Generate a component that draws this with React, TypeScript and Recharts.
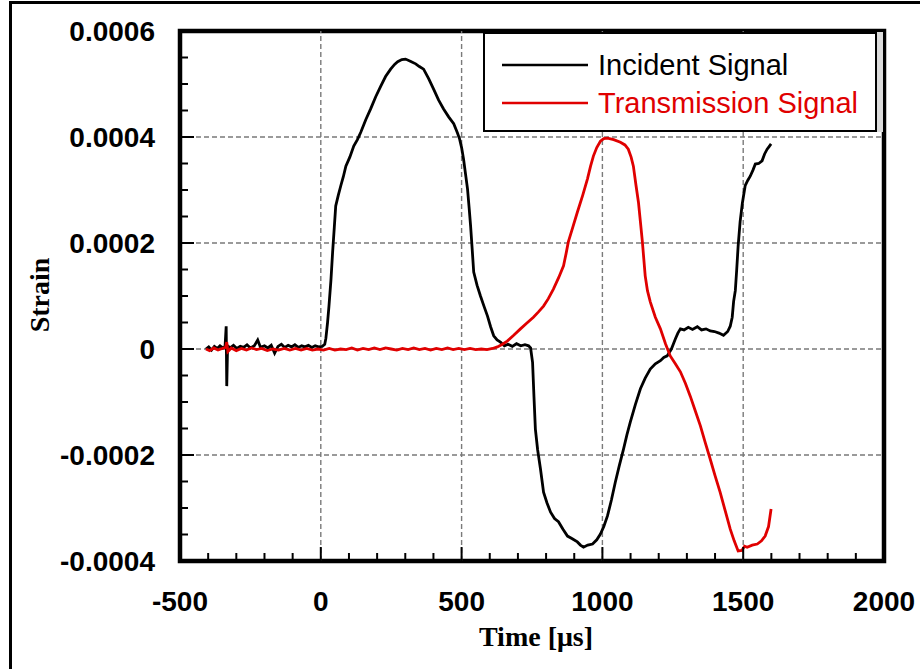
import React from 'react';
import { LineChart, Line, XAxis, YAxis, ReferenceLine, ReferenceArea, Legend } from 'recharts';

// time in µs, strain in units of 1e-4
const incidentTime = [
  -408, -398, -388, -378, -368, -358, -348, -340, -336, -334, -331, -322, -310, -298, -286, -274, -262, -250, -236, -224,
  -214, -200, -188, -176, -164, -152, -140, -128, -116, -104, -92, -80, -68, -56, -44, -32, -20, -8, 5, 14,
  18, 24, 29, 36, 42, 48, 53, 62, 71, 80, 89, 103, 117, 130, 142, 160, 177, 195, 213, 230,
  248, 262, 273, 288, 301, 318, 337, 350, 365, 383, 401, 418, 436, 454, 472, 485, 493, 500, 507, 514,
  521, 527, 532, 538, 543, 555, 567, 580, 592, 603, 614, 626, 638, 652, 665, 680, 695, 710, 725, 738,
  745, 752, 757, 762, 770, 780, 786, 791, 803, 816, 830, 844, 860, 876, 893, 911, 922, 933, 948, 965,
  980, 993, 1005, 1018, 1032, 1046, 1060, 1075, 1087, 1099, 1117, 1135, 1152, 1170, 1188, 1206, 1218, 1230, 1245, 1259,
  1268, 1277, 1290, 1305, 1320, 1337, 1352, 1368, 1383, 1398, 1414, 1430, 1445, 1454, 1461, 1466, 1472, 1477, 1482, 1489,
  1497, 1507, 1516, 1525, 1535, 1543, 1555, 1567, 1576, 1585, 1592, 1599,
];
const incidentStrain = [
  0.0, 0.04, -0.02, 0.05, 0.01, 0.06, 0.02, 0.05, 0.43, -0.7, 0.06, 0.02, 0.07, 0.01, 0.05, 0.03, 0.08, 0.02, 0.06, 0.17,
  0.03, 0.06, 0.02, 0.07, -0.08, 0.05, 0.09, 0.03, 0.07, 0.04, 0.08, 0.03, 0.06, 0.04, 0.07, 0.03, 0.06, 0.04, 0.05, 0.09,
  0.2, 0.5, 0.81, 1.3, 1.83, 2.3, 2.7, 2.9, 3.08, 3.25, 3.45, 3.62, 3.83, 3.95, 4.09, 4.33, 4.53, 4.76, 4.96, 5.14,
  5.28, 5.37, 5.42, 5.46, 5.47, 5.43, 5.38, 5.33, 5.28, 5.1, 4.9, 4.7, 4.53, 4.38, 4.25, 4.08, 3.96, 3.8, 3.58, 3.3,
  3.02, 2.65, 2.32, 1.85, 1.45, 1.2, 1.0, 0.8, 0.62, 0.42, 0.25, 0.17, 0.13, 0.06, 0.09, 0.05, 0.1, 0.06, 0.08, 0.06,
  0.02, -0.25, -0.9, -1.51, -1.9, -2.26, -2.5, -2.7, -2.9, -3.08, -3.2, -3.26, -3.4, -3.53, -3.58, -3.64, -3.7, -3.74, -3.7, -3.68,
  -3.6, -3.49, -3.35, -3.15, -2.85, -2.51, -2.2, -1.89, -1.62, -1.38, -1.05, -0.75, -0.55, -0.38, -0.28, -0.22, -0.16, -0.13, 0.0, 0.19,
  0.3, 0.38, 0.36, 0.41, 0.37, 0.42, 0.36, 0.38, 0.34, 0.33, 0.3, 0.26, 0.33, 0.43, 0.6, 0.9, 1.1, 1.5, 1.94, 2.4,
  2.75, 3.08, 3.18, 3.26, 3.38, 3.49, 3.5, 3.55, 3.68, 3.77, 3.82, 3.87,
];

const transmissionTime = [
  -408, -395, -380, -365, -350, -338, -334, -330, -318, -300, -282, -264, -246, -228, -210, -190, -170, -150, -130, -110,
  -90, -70, -50, -30, -10, 10, 30, 50, 70, 90, 110, 130, 150, 170, 190, 210, 230, 250, 270, 290,
  310, 330, 350, 370, 390, 410, 430, 450, 470, 490, 510, 530, 550, 570, 590, 610, 627, 645, 662, 685,
  709, 732, 755, 773, 791, 808, 826, 845, 862, 871, 879, 895, 911, 930, 947, 958, 968, 980, 993, 1005,
  1018, 1040, 1064, 1080, 1092, 1102, 1110, 1119, 1128, 1135, 1142, 1147, 1152, 1160, 1170, 1188, 1206, 1224, 1241, 1259,
  1277, 1295, 1312, 1330, 1348, 1365, 1383, 1400, 1418, 1436, 1454, 1468, 1482, 1495, 1505, 1514, 1532, 1550, 1565, 1578,
  1590, 1599,
];
const transmissionStrain = [
  0.0, -0.03, 0.02, -0.02, 0.01, 0.03, 0.13, -0.05, 0.02, -0.03, 0.01, -0.02, 0.02, -0.01, 0.01, -0.03, 0.0, -0.02, 0.01, -0.02,
  0.01, -0.02, 0.01, -0.02, 0.0, -0.02, 0.01, -0.02, 0.0, -0.01, 0.02, -0.02, 0.01, -0.01, 0.02, -0.01, 0.02, 0.0, -0.02, 0.01,
  -0.01, 0.02, -0.01, 0.01, -0.02, 0.01, -0.01, 0.02, -0.01, 0.01, -0.01, 0.01, -0.01, 0.0, -0.01, 0.01, 0.04, 0.09, 0.15, 0.26,
  0.38, 0.49, 0.6, 0.7, 0.81, 0.95, 1.13, 1.35, 1.57, 1.8, 2.02, 2.3, 2.58, 2.9, 3.21, 3.45, 3.64, 3.8, 3.92, 3.97,
  3.98, 3.95, 3.9, 3.85, 3.77, 3.62, 3.45, 3.1, 2.77, 2.4, 2.02, 1.7, 1.38, 1.1, 0.89, 0.6, 0.38, 0.1, -0.13, -0.28,
  -0.43, -0.65, -0.89, -1.17, -1.45, -1.76, -2.08, -2.39, -2.7, -3.05, -3.4, -3.62, -3.81, -3.8, -3.72, -3.74, -3.7, -3.68, -3.62, -3.53,
  -3.35, -3.02,
];

const xDomain = [-500, 2000];
const yDomain = [-0.0004, 0.0006];
const xTicks = [
  -500, -400, -300, -200, -100, 0, 100, 200, 300, 400, 500, 600, 700, 800, 900, 1000, 1100, 1200, 1300, 1400, 1500, 1600,
  1700, 1800, 1900, 2000,
];
const xMajor = [-500, 0, 500, 1000, 1500, 2000];
const yTicks = [
  -0.0004, -0.00035, -0.0003, -0.00025, -0.0002, -0.00015, -0.0001, -0.00005, 0, 0.00005, 0.0001, 0.00015, 0.0002,
  0.00025, 0.0003, 0.00035, 0.0004, 0.00045, 0.0005, 0.00055, 0.0006,
];
const yMajor = [-0.0004, -0.0002, 0, 0.0002, 0.0004, 0.0006];

const incidentData = incidentTime.map((t, i) => ({ t, s: incidentStrain[i] * 1e-4 }));
const transmissionData = transmissionTime.map((t, i) => ({ t, s: transmissionStrain[i] * 1e-4 }));

const tickFont = { fontFamily: '"Liberation Sans", Arial, sans-serif', fontWeight: 700, fontSize: 28 };

// ticks point inward; only the major ones carry labels
const renderXTick = (props: any) => {
  const { x, y, payload } = props;
  const major = xMajor.includes(payload.value);
  return (
    <g key={'xt' + payload.value}>
      <line x1={x} x2={x} y1={y} y2={y - (major ? 14 : 8)} stroke="#000" strokeWidth={2} />
      {major && (
        <text x={x} y={y + 50} textAnchor="middle" fill="#000" style={tickFont}>
          {payload.value}
        </text>
      )}
    </g>
  );
};

const renderYTick = (props: any) => {
  const { x, y, payload } = props;
  const major = yMajor.includes(payload.value);
  return (
    <g key={'yt' + payload.value}>
      <line x1={x} x2={x + (major ? 14 : 8)} y1={y} y2={y} stroke="#000" strokeWidth={2} />
      {major && (
        <text x={x - 25} y={y} dy="0.36em" textAnchor="end" fill="#000" style={tickFont}>
          {payload.value === 0 ? '0' : payload.value.toFixed(4)}
        </text>
      )}
    </g>
  );
};

const legendItems = [
  { name: 'Incident Signal', color: '#000000' },
  { name: 'Transmission Signal', color: '#e00000' },
];

const LegendBox = () => (
  <div
    style={{
      position: 'relative',
      width: 390,
      height: 96,
      border: '2px solid #000',
      background: '#fff',
      boxShadow: '6px 0 0 #dcdcdc',
      fontFamily: '"Liberation Sans", Arial, sans-serif',
      fontSize: 29,
    }}
  >
    {legendItems.map((item, i) => (
      <div key={item.name} style={{ position: 'absolute', left: 17, top: 13 + i * 38, height: 36, display: 'flex', alignItems: 'center' }}>
        <svg width={86} height={4} style={{ display: 'block' }}>
          <line x1={0} x2={86} y1={2} y2={2} stroke={item.color} strokeWidth={2.5} />
        </svg>
        <span style={{ marginLeft: 10, color: item.color, lineHeight: '36px' }}>{item.name}</span>
      </div>
    ))}
  </div>
);

export default function App() {
  return (
    <div style={{ position: 'absolute', left: 0, top: 0, width: 920, height: 669, overflow: 'hidden', background: '#fff' }}>
      <div style={{ position: 'absolute', left: 9, top: 1, width: 1000, height: 800, border: '3px solid #000' }} />
      <div
        style={{
          position: 'absolute',
          left: 40,
          top: 295,
          transform: 'translate(-50%, -50%) rotate(-90deg)',
          fontFamily: '"Liberation Serif", "Times New Roman", serif',
          fontWeight: 700,
          fontSize: 28,
          whiteSpace: 'nowrap',
        }}
      >
        Strain
      </div>
      <div
        style={{
          position: 'absolute',
          left: 536,
          top: 637,
          transform: 'translate(-50%, -50%)',
          fontFamily: '"Liberation Serif", "Times New Roman", serif',
          fontWeight: 700,
          fontSize: 28,
          whiteSpace: 'nowrap',
        }}
      >
        Time [μs]
      </div>
      <div style={{ position: 'absolute', left: 0, top: 0 }}>
        <LineChart width={920} height={669} margin={{ top: 31, right: 36, left: 120, bottom: 48 }}>
          <XAxis
            type="number"
            dataKey="t"
            domain={xDomain}
            ticks={xTicks}
            interval={0}
            allowDataOverflow
            axisLine={false}
            tickLine={false}
            tickSize={0}
            tickMargin={0}
            height={60}
            tick={renderXTick}
          />
          <YAxis
            type="number"
            dataKey="s"
            domain={yDomain}
            ticks={yTicks}
            interval={0}
            allowDataOverflow
            axisLine={false}
            tickLine={false}
            tickSize={0}
            tickMargin={0}
            width={60}
            tick={renderYTick}
          />
          {xMajor.slice(1, -1).map((v) => (
            <ReferenceLine key={'x' + v} x={v} stroke="#7a7a7a" strokeWidth={1.4} strokeDasharray="5 3" />
          ))}
          {yMajor.slice(1, -1).map((v) => (
            <ReferenceLine key={'y' + v} y={v} stroke="#7a7a7a" strokeWidth={1.4} strokeDasharray="5 3" />
          ))}
          <Line
            data={incidentData}
            dataKey="s"
            name="Incident Signal"
            type="linear"
            stroke="#000000"
            strokeWidth={2.8}
            dot={false}
            isAnimationActive={false}
          />
          <Line
            data={transmissionData}
            dataKey="s"
            name="Transmission Signal"
            type="linear"
            stroke="#e00000"
            strokeWidth={2.8}
            dot={false}
            isAnimationActive={false}
          />
          <ReferenceArea
            x1={xDomain[0]}
            x2={xDomain[1]}
            y1={yDomain[0]}
            y2={yDomain[1]}
            fill="none"
            fillOpacity={0}
            stroke="#000"
            strokeWidth={4.5}
          />
          <Legend
            layout="vertical"
            align="center"
            verticalAlign="middle"
            content={<LegendBox />}
            wrapperStyle={{ left: 483, top: 32, width: 394, height: 100 }}
          />
        </LineChart>
      </div>
    </div>
  );
}
